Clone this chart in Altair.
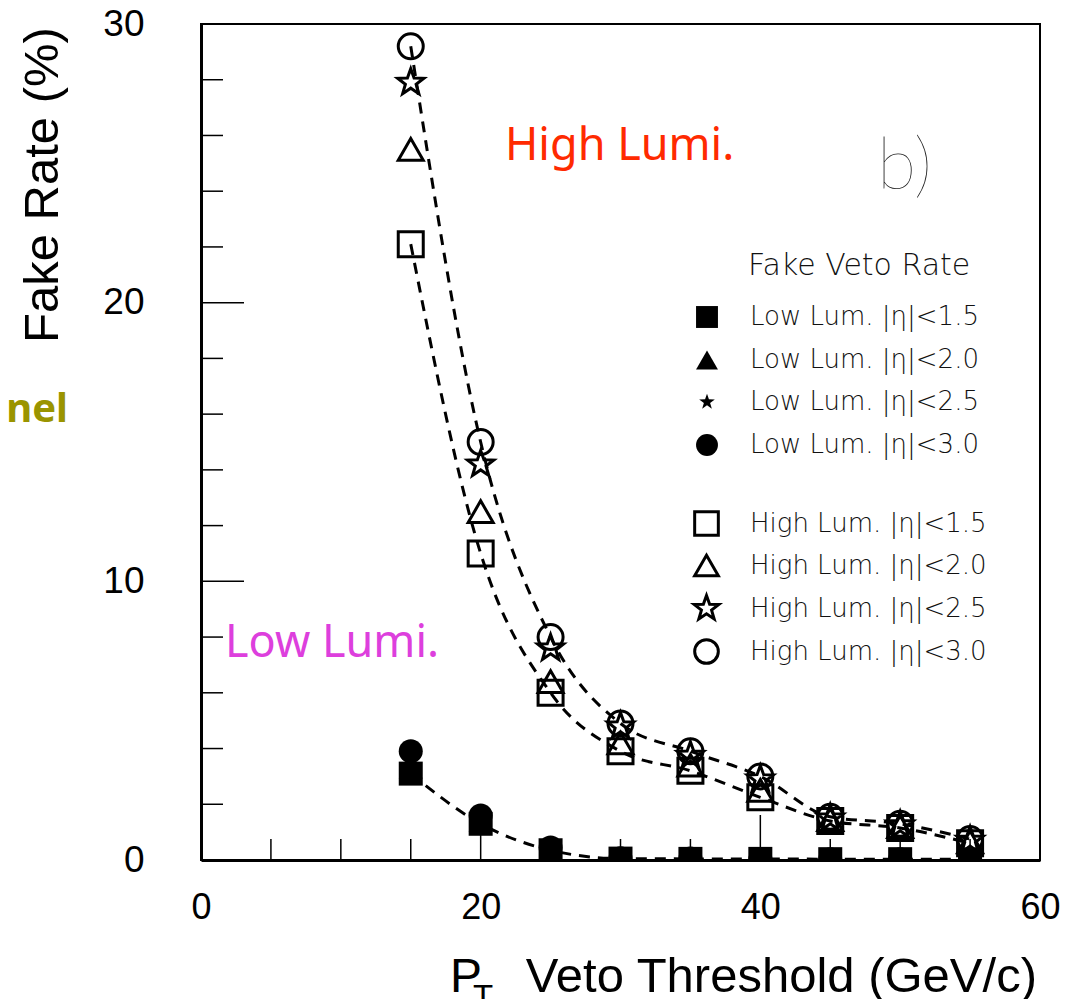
import math
import altair as alt
import pandas as pd

# ---------------- data ----------------
pt = [15, 20, 25, 30, 35, 40, 45, 50, 55]

low_eta15 = [3.1, 1.3, 0.35, 0.05, 0.04, 0.04, 0.03, 0.03, 0.02]
low_eta20 = [3.3, 1.4, 0.38, 0.05, 0.04, 0.04, 0.03, 0.03, 0.02]
low_eta25 = [3.6, 1.5, 0.42, 0.05, 0.04, 0.04, 0.03, 0.03, 0.02]
low_eta30 = [3.9, 1.6, 0.45, 0.06, 0.05, 0.04, 0.03, 0.03, 0.02]

high_eta15 = [22.1, 11.0, 6.0, 3.9, 3.2, 2.25, 1.4, 1.15, 0.6]
high_eta20 = [25.5, 12.5, 6.4, 4.2, 3.4, 2.5, 1.45, 1.2, 0.65]
high_eta25 = [27.9, 14.2, 7.6, 4.8, 3.75, 2.9, 1.5, 1.25, 0.7]
high_eta30 = [29.2, 15.0, 8.0, 4.9, 3.9, 3.0, 1.55, 1.3, 0.75]

low_labels = ["Low Lum. |\u03b7|<1.5", "Low Lum. |\u03b7|<2.0",
              "Low Lum. |\u03b7|<2.5", "Low Lum. |\u03b7|<3.0"]
high_labels = ["High Lum. |\u03b7|<1.5", "High Lum. |\u03b7|<2.0",
               "High Lum. |\u03b7|<2.5", "High Lum. |\u03b7|<3.0"]

x_labels = [0, 20, 40, 60]
y_labels = [0, 10, 20, 30]
x_minor = [5, 10, 15, 25, 30, 35, 45, 50, 55]
x_major = [20, 40]
y_minor = [2, 4, 6, 8, 12, 14, 16, 18, 22, 24, 26, 28]
y_major = [10, 20]

# ---------------- helpers ----------------
def star_path(r_out, r_in):
    pts = []
    for k in range(10):
        ang = math.radians(-90 + 36 * k)
        r = r_out if k % 2 == 0 else r_in
        pts.append(f"{r * math.cos(ang):.3f},{r * math.sin(ang):.3f}")
    return "M" + "L".join(pts) + "Z"

low_shapes = ["square", "triangle-up", star_path(0.75, 0.3), "circle"]
high_shapes = ["square", "triangle-up", star_path(1.1, 0.45), "circle"]

low_series = [low_eta15, low_eta20, low_eta25, low_eta30]
high_series = [high_eta15, high_eta20, high_eta25, high_eta30]

low_df = pd.DataFrame([
    {"pt": x, "rate": v, "label": lab}
    for lab, vals in zip(low_labels, low_series) for x, v in zip(pt, vals)
])
high_df = pd.DataFrame([
    {"pt": x, "rate": v, "label": lab}
    for lab, vals in zip(high_labels, high_series) for x, v in zip(pt, vals)
])

W, H = 839, 836
xs = alt.Scale(domain=[0, 60], nice=False, zero=False)
ys = alt.Scale(domain=[0, 30], nice=False, zero=False)

X = alt.X("pt:Q", scale=xs, title=None,
          axis=alt.Axis(values=x_labels, labelPadding=30, labelFontSize=36,
                        labelFlush=False, labelOverlap=False))
Y = alt.Y("rate:Q", scale=ys, title=None,
          axis=alt.Axis(values=y_labels, labelPadding=57, labelFontSize=37,
                        labelFlush=False, labelOverlap=False))

LEG_FONT = "DejaVu Sans"
legend_common = dict(orient="none", title=None, labelFont=LEG_FONT,
                     labelFontWeight=200, labelFontSize=26, labelColor="#111111",
                     labelOffset=30, padding=0, labelLimit=0)

# fit lines (dashed)
def fit_line(vals):
    return alt.Chart(pd.DataFrame({"pt": pt, "rate": vals})).mark_line(
        color="black", strokeWidth=3, strokeDash=[11, 8],
        interpolate="monotone", clip=True
    ).encode(x=X, y=Y)

line_upper = fit_line(high_eta30)
line_lower = fit_line(high_eta15)
line_low = fit_line(low_eta15)

low_pts = alt.Chart(low_df).mark_point(
    filled=True, color="black", size=576, opacity=1, clip=True
).encode(
    x=X, y=Y,
    shape=alt.Shape("label:N", scale=alt.Scale(domain=low_labels, range=low_shapes),
                    legend=alt.Legend(legendX=493, legendY=280, symbolSize=480,
                                      rowPadding=16,
                                      symbolFillColor="black", symbolStrokeColor="black",
                                      **legend_common)),
)
high_pts = alt.Chart(high_df).mark_point(
    filled=False, color="black", strokeWidth=3, size=625, opacity=1, clip=True
).encode(
    x=X, y=Y,
    shape=alt.Shape("label:N", scale=alt.Scale(domain=high_labels, range=high_shapes),
                    legend=alt.Legend(legendX=492, legendY=486, symbolSize=560,
                                      rowPadding=7,
                                      symbolFillColor="transparent", symbolStrokeColor="black",
                                      symbolStrokeWidth=3, **legend_common)),
)

# inner ticks
def tick_rules(vals, axis, length, width):
    d = pd.DataFrame({"v": vals})
    if axis == "y":
        return alt.Chart(d).mark_rule(color="black", strokeWidth=width).encode(
            y=alt.Y("v:Q", scale=ys), x=alt.value(0), x2=alt.value(length))
    return alt.Chart(d).mark_rule(color="black", strokeWidth=width).encode(
        x=alt.X("v:Q", scale=xs), y=alt.value(H), y2=alt.value(H - length))

ticks = [tick_rules(y_minor, "y", 22, 1.5), tick_rules(y_major, "y", 43, 1.5),
         tick_rules(x_minor, "x", 21, 1.5), tick_rules(x_major, "x", 45, 1.5)]

dummy = pd.DataFrame({"a": [0]})
def label(text, x, y, **kw):
    return alt.Chart(dummy).mark_text(text=text, **kw).encode(
        x=alt.value(x), y=alt.value(y))

texts = [
    label("Fake Rate (%)", -158, 161, angle=270, font="Liberation Sans",
          fontSize=49, align="center", baseline="middle", color="black"),
    label("P", 249, 968, font="Liberation Sans", fontSize=48, align="left",
          baseline="alphabetic", color="black"),
    label("T", 272, 984, font="Liberation Sans", fontSize=33, align="left",
          baseline="alphabetic", color="black"),
    label("Veto Threshold (GeV/c)", 836, 968, font="Liberation Sans", fontSize=49,
          align="right", baseline="alphabetic", color="black"),
    label("High Lumi.", 304, 136, font="Noto Sans", fontSize=45, align="left",
          baseline="alphabetic", color="#ff2a00"),
    label("Low Lumi.", 24, 633, font="Noto Sans", fontSize=45, align="left",
          baseline="alphabetic", color="#dd3fdd"),
    label("b)", 676, 165, font="Lato", fontWeight=100, fontSize=72, align="left",
          baseline="alphabetic", color="#222222"),
    label("nel", -133, 398, font="Noto Sans", fontWeight="bold", fontSize=40,
          align="right", baseline="alphabetic", color="#9a9400"),
    label("Fake Veto Rate", 547, 242, font=LEG_FONT, fontWeight=200, fontSize=30,
          align="left", baseline="middle", color="#111111"),
]

chart = alt.layer(
    *ticks, line_upper, line_lower, line_low, low_pts, high_pts, *texts
).resolve_scale(shape="independent").properties(
    width=W, height=H,
    autosize=alt.AutoSizeParams(type="none"),
    padding={"left": 193, "top": 16, "right": 20, "bottom": 139},
).configure_view(
    stroke="black", strokeWidth=2
).configure_axis(
    grid=False, ticks=False, tickSize=0, domain=True, domainColor="black",
    domainWidth=3, labelFont="Liberation Sans", labelColor="black",
)

chart.save("out.html", embed_options={"renderer": "svg", "actions": False})
